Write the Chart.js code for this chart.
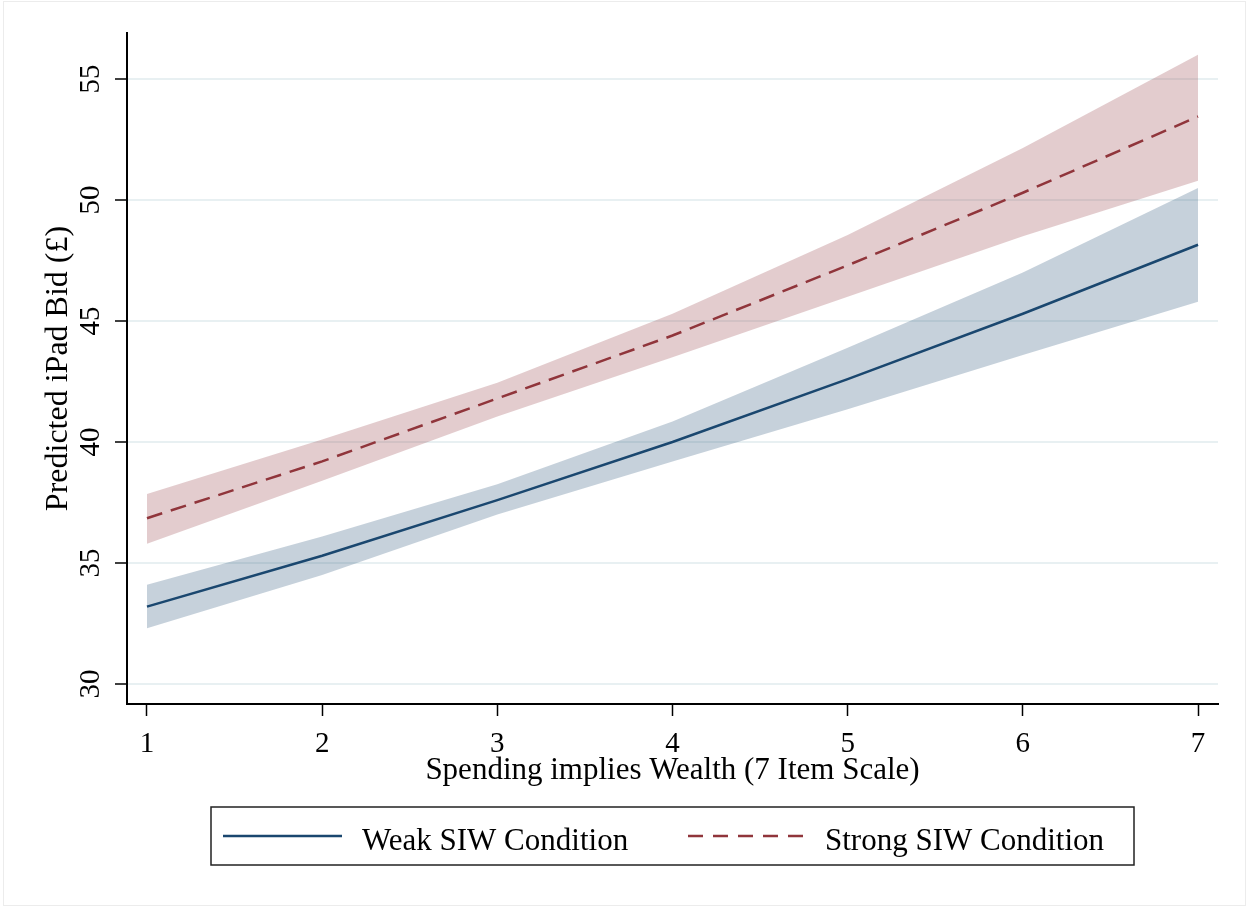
<!DOCTYPE html>
<html>
<head>
<meta charset="utf-8">
<script src="https://cdn.jsdelivr.net/npm/chart.js@4"></script>
<style>
  html, body { margin: 0; padding: 0; background: #fff; }
  #wrap { position: relative; width: 1249px; height: 909px; }
  #frame { position: absolute; left: 3px; top: 1px; width: 1241px; height: 903px; border: 1px solid #ececec; pointer-events: none; }
</style>
</head>
<body>
<div id="wrap">
  <canvas id="siwChart" width="1249" height="909"></canvas>
  <div id="frame"></div>
</div>
<script>
// valores
const xValues = [1, 2, 3, 4, 5, 6, 7];
const weakMean  = [33.2, 35.3, 37.6, 40.0, 42.6, 45.3, 48.15];
const weakUpper = [34.1, 36.1, 38.25, 40.85, 43.9, 47.0, 50.5];
const weakLower = [32.3, 34.5, 37.0, 39.2, 41.35, 43.6, 45.8];
const strongMean  = [36.85, 39.2, 41.8, 44.4, 47.3, 50.3, 53.45];
const strongUpper = [37.85, 40.1, 42.45, 45.3, 48.55, 52.15, 56.0];
const strongLower = [35.8, 38.4, 41.05, 43.5, 46.0, 48.5, 50.8];
const xTicks = [1, 2, 3, 4, 5, 6, 7];
const yTicks = [30, 35, 40, 45, 50, 55];
const seriesNames = ['Weak SIW Condition', 'Strong SIW Condition'];

const serif = '"Liberation Serif", "Times New Roman", serif';
const navy = '#1a476f';
const maroon = '#90353b';

const pts = arr => arr.map((v, i) => ({ x: xValues[i], y: v }));
const band = (arr, color, fill) => ({
  data: pts(arr), borderWidth: 0, pointRadius: 0, backgroundColor: color,
  fill: fill, order: 2
});

// textos dos eixos e legenda desenhados à mão (rótulos do eixo y são verticais)
const textPlugin = {
  id: 'stataText',
  afterDraw(chart) {
    const ctx = chart.ctx;
    const xs = chart.scales.x, ys = chart.scales.y;
    ctx.save();
    ctx.fillStyle = '#000';

    // rótulos do eixo y, girados
    ctx.font = '29px ' + serif;
    ctx.textAlign = 'center';
    ctx.textBaseline = 'alphabetic';
    yTicks.forEach(v => {
      ctx.save();
      ctx.translate(99, ys.getPixelForValue(v));
      ctx.rotate(-Math.PI / 2);
      ctx.fillText(String(v), 0, 0);
      ctx.restore();
    });

    // rótulos do eixo x
    xTicks.forEach(v => ctx.fillText(String(v), xs.getPixelForValue(v), 752));

    // títulos
    ctx.font = '31px ' + serif;
    ctx.fillText('Spending implies Wealth (7 Item Scale)', (xs.left + xs.right) / 2, 779);
    ctx.save();
    ctx.translate(67, (ys.top + ys.bottom) / 2);
    ctx.rotate(-Math.PI / 2);
    ctx.font = '32px ' + serif;
    ctx.fillText('Predicted iPad Bid (£)', 0, 0);
    ctx.restore();

    // legenda
    ctx.strokeStyle = '#222';
    ctx.lineWidth = 1.5;
    ctx.strokeRect(211, 807, 923, 58);
    ctx.lineWidth = 2.5;
    ctx.strokeStyle = navy;
    ctx.beginPath(); ctx.moveTo(223, 836); ctx.lineTo(342, 836); ctx.stroke();
    ctx.strokeStyle = maroon;
    ctx.setLineDash([15, 10]);
    ctx.beginPath(); ctx.moveTo(688, 836); ctx.lineTo(805, 836); ctx.stroke();
    ctx.setLineDash([]);
    ctx.textAlign = 'left';
    ctx.fillText(seriesNames[0], 362, 850);
    ctx.fillText(seriesNames[1], 825, 850);
    ctx.restore();
  }
};

new Chart(document.getElementById('siwChart').getContext('2d'), {
  type: 'line',
  data: {
    datasets: [
      band(weakUpper, 'rgba(26,71,111,0.25)', '+1'),
      band(weakLower, 'rgba(0,0,0,0)', false),
      band(strongUpper, 'rgba(144,53,59,0.25)', '+1'),
      band(strongLower, 'rgba(0,0,0,0)', false),
      {
        label: seriesNames[0], data: pts(weakMean), borderColor: navy,
        borderWidth: 2.5, pointRadius: 0, fill: false, order: 1
      },
      {
        label: seriesNames[1], data: pts(strongMean), borderColor: maroon,
        borderWidth: 2.5, borderDash: [16, 9], pointRadius: 0, fill: false, order: 1
      }
    ]
  },
  options: {
    responsive: false,
    animation: false,
    layout: { padding: { top: 33, right: 31, left: 0, bottom: 0 } },
    plugins: { legend: { display: false }, tooltip: { enabled: false } },
    scales: {
      x: {
        type: 'linear', min: 0.886, max: 7.114,
        afterBuildTicks: s => { s.ticks = xTicks.map(v => ({ value: v })); },
        afterFit: s => { s.height = 205; },
        ticks: { display: false },
        grid: { drawOnChartArea: false, tickLength: 12, tickColor: '#000', tickWidth: 1.5 },
        border: { color: '#000', width: 2 }
      },
      y: {
        type: 'linear', min: 29.175, max: 56.9,
        afterBuildTicks: s => { s.ticks = yTicks.map(v => ({ value: v })); },
        afterFit: s => { s.width = 127; },
        ticks: { display: false },
        grid: { color: '#e8f0f2', lineWidth: 2, tickLength: 12, tickColor: '#000', tickWidth: 1.5 },
        border: { color: '#000', width: 2 }
      }
    }
  },
  plugins: [textPlugin]
});
</script>
</body>
</html>
